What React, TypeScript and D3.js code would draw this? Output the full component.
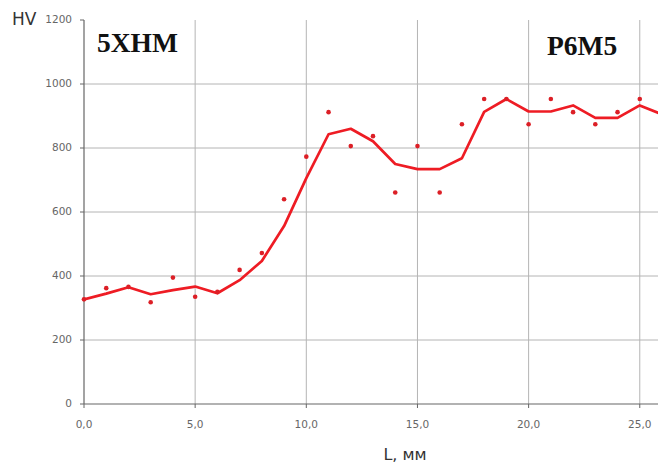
import React, { useRef, useEffect } from 'react';
import * as d3 from 'd3';

// measured hardness points, one per mm
const POINT_L = [0, 1, 2, 3, 4, 5, 6, 7, 8, 9, 10, 11, 12, 13, 14, 15, 16, 17, 18, 19, 20, 21, 22, 23, 24, 25];
const POINT_HV = [327, 362, 366, 318, 395, 335, 351, 419, 472, 640, 773, 912, 806, 837, 661, 806, 661, 874, 953, 953, 874, 953, 912, 874, 912, 953];

// smoothed trend line
const LINE_L = [0, 1, 2, 3, 4, 5, 6, 7, 8, 9, 10, 11, 12, 13, 14, 15, 16, 17, 18, 19, 20, 21, 22, 23, 24, 25, 26];
const LINE_HV = [327, 345, 365, 343, 356, 367, 346, 387, 447, 556, 706, 843, 860, 821, 750, 734, 734, 768, 913, 953, 914, 914, 933, 894, 894, 933, 905];

const X_TICKS = [0, 5, 10, 15, 20, 25];
const Y_TICKS = [0, 200, 400, 600, 800, 1000, 1200];
const LEFT_STEEL = '5ХНМ';
const RIGHT_STEEL = 'Р6М5';

export default function App() {
  const svgRef = useRef<SVGSVGElement>(null);

  useEffect(() => {
    if (!svgRef.current) return;
    const width = 658, height = 466;
    const svg = d3.select(svgRef.current);
    svg.selectAll('*').remove();
    const x = d3.scaleLinear().domain([0, 26]).range([84, 662]);
    const y = d3.scaleLinear().domain([0, 1200]).range([404, 20]);
    const grid = '#b4b4b4';
    const font = 'DejaVu Sans, sans-serif';

    svg.append('defs').append('clipPath').attr('id', 'plotClip')
      .append('rect').attr('x', 84).attr('y', 0).attr('width', width - 84).attr('height', height);

    Y_TICKS.filter(t => t > 0 && t < 1200).forEach(t => {
      svg.append('line').attr('x1', x(0)).attr('x2', width).attr('y1', y(t)).attr('y2', y(t))
        .attr('stroke', grid).attr('stroke-width', 1);
    });
    X_TICKS.filter(t => t > 0).forEach(t => {
      svg.append('line').attr('x1', x(t)).attr('x2', x(t)).attr('y1', y(1200)).attr('y2', y(0))
        .attr('stroke', grid).attr('stroke-width', 1);
    });

    // axes
    svg.append('line').attr('x1', x(0)).attr('x2', x(0)).attr('y1', y(1200)).attr('y2', y(0))
      .attr('stroke', '#666').attr('stroke-width', 1.2);
    svg.append('line').attr('x1', x(0)).attr('x2', width).attr('y1', y(0)).attr('y2', y(0))
      .attr('stroke', '#666').attr('stroke-width', 1.2);

    Y_TICKS.forEach(t => {
      svg.append('line').attr('x1', x(0) - 4).attr('x2', x(0)).attr('y1', y(t)).attr('y2', y(t))
        .attr('stroke', '#666');
      svg.append('text').attr('x', x(0) - 12).attr('y', y(t)).attr('text-anchor', 'end')
        .attr('dominant-baseline', 'middle').attr('fill', '#666').attr('font-family', font)
        .attr('font-size', '10.5px').text(t);
    });
    X_TICKS.forEach(t => {
      svg.append('line').attr('x1', x(t)).attr('x2', x(t)).attr('y1', y(0)).attr('y2', y(0) + 4)
        .attr('stroke', '#666');
      svg.append('text').attr('x', x(t)).attr('y', y(0) + 24).attr('text-anchor', 'middle')
        .attr('fill', '#666').attr('font-family', font).attr('font-size', '10.5px')
        .text(d3.format('.1f')(t).replace('.', ','));
    });

    svg.append('text').attr('x', 12).attr('y', 25).attr('fill', '#333').attr('font-family', font)
      .attr('font-size', '17px').text('HV');
    svg.append('text').attr('x', 405).attr('y', 460).attr('text-anchor', 'middle').attr('fill', '#333')
      .attr('font-family', font).attr('font-size', '16px').text('L, мм');

    const serif = 'Liberation Serif, Times New Roman, serif';
    svg.append('text').attr('x', 97).attr('y', 52).attr('fill', '#111').attr('font-family', serif)
      .attr('font-weight', 'bold').attr('font-size', '27.5px').text(LEFT_STEEL);
    svg.append('text').attr('x', 547).attr('y', 55).attr('fill', '#111').attr('font-family', serif)
      .attr('font-weight', 'bold').attr('font-size', '27.5px').text(RIGHT_STEEL);

    const plot = svg.append('g').attr('clip-path', 'url(#plotClip)');
    const lineData = LINE_L.map((l, i) => [l, LINE_HV[i]] as [number, number]);
    plot.append('path').datum(lineData)
      .attr('d', d3.line<[number, number]>().x(d => x(d[0])).y(d => y(d[1])))
      .attr('fill', 'none').attr('stroke', '#ee1c24').attr('stroke-width', 2.7)
      .attr('stroke-linejoin', 'round');
    svg.append('g').selectAll('circle').data(POINT_L).enter().append('circle')
      .attr('cx', (d) => x(d)).attr('cy', (_, i) => y(POINT_HV[i])).attr('r', 2.3)
      .attr('fill', '#dc1f26');
  }, []);

  return (
    <div style={{ position: 'fixed', left: 0, top: 0 }}>
      <svg ref={svgRef} width={658} height={466} style={{ display: 'block', background: '#fff' }} />
    </div>
  );
}
